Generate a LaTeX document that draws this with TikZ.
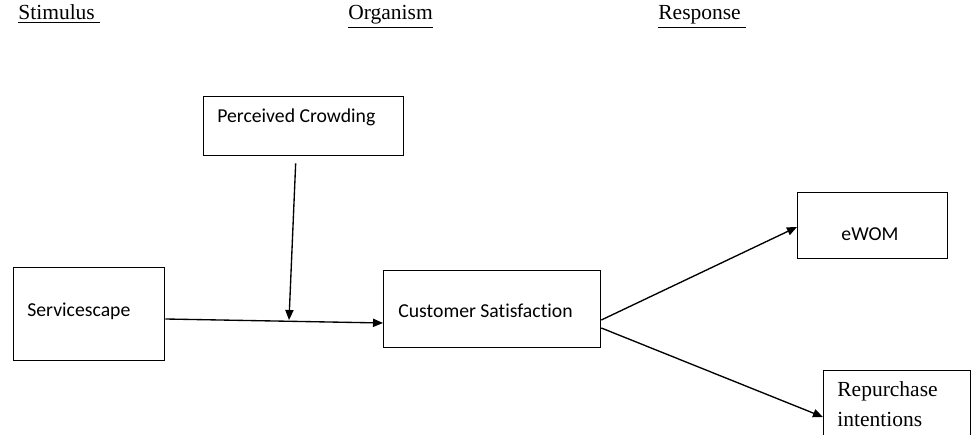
\documentclass[tikz,border=0pt]{standalone}
\usepackage{fontspec}
\setmainfont{Liberation Serif}
\newfontfamily\calibrifont[Ligatures={NoCommon}]{Carlito}
\usetikzlibrary{arrows.meta,calc}
\begin{document}
\begin{tikzpicture}[x=0.558pt,y=-0.558pt,
  box/.style={draw, line width=0.75pt, inner sep=0pt, anchor=north west},
  boxtext/.style={inner sep=0pt, anchor=base west, font=\calibrifont\fontsize{11}{13}\selectfont},
  seriftext/.style={inner sep=0pt, anchor=base west, font=\fontsize{12}{14}\selectfont},
  arr/.style={line width=0.75pt, -{Triangle[length=5.6pt,width=4.6pt]}}]
\useasboundingbox (0,0) rectangle (972,435);
\clip (0,0) rectangle (972,435);
% header labels
\node[seriftext] (lstim) at (18,20) {\underline{Stimulus\ }};
\node[seriftext] (lorg) at (348,20) {\underline{Organism}};
\node[seriftext] (lresp) at (658,20) {\underline{Response\ }};
% boxes
\node[box, minimum width=200*0.558pt, minimum height=59*0.558pt] (pc) at (203,96) {};
\node[box, minimum width=151*0.558pt, minimum height=93*0.558pt] (ss) at (13,267) {};
\node[box, minimum width=217*0.558pt, minimum height=77*0.558pt] (cs) at (383,270) {};
\node[box, minimum width=150*0.558pt, minimum height=66*0.558pt] (ew) at (797,192) {};
\node[box, minimum width=147*0.558pt, minimum height=80*0.558pt] (rp) at (823,370) {};
% texts
\node[boxtext] (pct) at (217,123) {Perceived Crowding};
\node[boxtext] (sst) at (27,317) {Servicescape};
\node[boxtext] (cst) at (398,318) {Customer Satisfaction};
\node[boxtext, anchor=base] (ewt) at (870,241) {eWOM};
\node[seriftext] (rpt1) at (837,397) {Repurchase};
\node[seriftext] (rpt2) at (837,427) {intentions};
% connectors
\coordinate (pcstart) at ($(pc.south)+(-8,7)$);
\coordinate (junc) at (289,320);
\draw[arr] ($(ss.north east)+(0,52)$) -- ($(cs.north west)+(0,53)$);
\draw[arr] (pcstart) -- (junc);
\draw[arr] ($(cs.north east)+(0,50)$) -- ($(ew.north west)+(0,35)$);
\draw[arr] ($(cs.north east)+(0,58)$) -- ($(rp.north west)+(0,47)$);
\end{tikzpicture}
\end{document}
